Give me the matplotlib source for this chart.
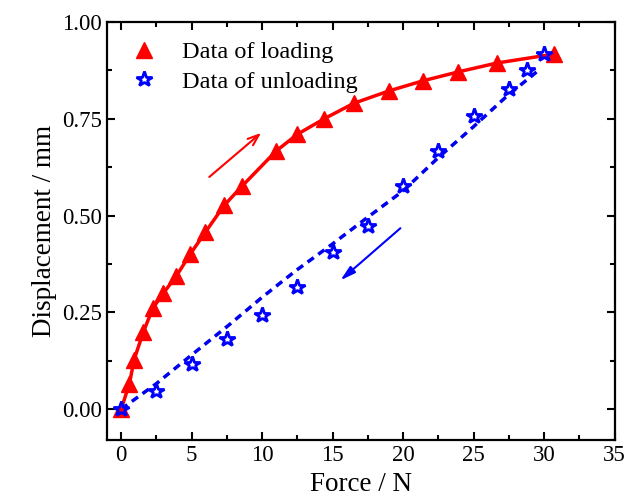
import matplotlib.pyplot as plt

# loading data (red triangles)
load_x = [0, 0.59, 0.92, 1.58, 2.24, 3.0, 3.9, 4.89, 5.97, 7.3, 8.6, 11.0,
          12.5, 14.4, 16.5, 19.0, 21.4, 23.9, 26.65, 30.7]
load_y = [0, 0.066, 0.128, 0.20, 0.26, 0.30, 0.343, 0.40, 0.457, 0.526, 0.577, 0.667,
          0.71, 0.75, 0.79, 0.822, 0.848, 0.871, 0.894, 0.917]

# unloading data (blue stars)
unload_x = [0, 2.5, 5, 7.5, 10, 12.5, 15, 17.5, 20, 22.5, 25, 27.5, 28.75, 30]
unload_y = [0, 0.047, 0.116, 0.182, 0.242, 0.315, 0.405, 0.474, 0.577, 0.666,
            0.756, 0.826, 0.876, 0.917]

# fitted unloading line
fit_x = [0, 2.5, 5.1, 7.6, 10, 12.4, 15, 17.5, 20, 22.5, 25, 27.4, 29.7]
fit_y = [0, 0.066, 0.143, 0.216, 0.289, 0.358, 0.427, 0.496, 0.564, 0.65, 0.73, 0.81, 0.878]

plt.rcParams['font.family'] = ['Liberation Serif', 'DejaVu Serif']

fig = plt.figure(figsize=(6.26, 4.99), dpi=100)
ax = fig.add_axes([0.171, 0.118, 0.811, 0.838])

ax.plot(load_x, load_y, '-', color='red', lw=2.5, zorder=2)
ax.plot(fit_x, fit_y, '--', color='#0000ee', lw=2.5, dashes=(2.2, 1.6), zorder=2)
ax.plot(load_x, load_y, '^', color='red', ms=12, ls='none', label='Data of loading', zorder=3)
ax.plot(unload_x, unload_y, '*', color='blue', mfc='none', mec='blue', mew=2, ms=11.5,
        ls='none', label='Data of unloading', zorder=4)

ax.annotate('', xy=(10.07, 0.718), xytext=(6.1, 0.595),
            arrowprops=dict(arrowstyle='->,head_length=0.8,head_width=0.3', color='red', lw=1.5))
ax.annotate('', xy=(15.4, 0.328), xytext=(19.95, 0.472),
            arrowprops=dict(arrowstyle='-|>,head_length=0.9,head_width=0.25', color='blue', lw=1.5))

ax.set_xlim(-1, 35)
ax.set_ylim(-0.08, 1.0)
ax.set_xticks([0, 5, 10, 15, 20, 25, 30, 35])
ax.set_xticks([2.5, 7.5, 12.5, 17.5, 22.5, 27.5, 32.5], minor=True)
ax.set_yticks([0, 0.25, 0.5, 0.75, 1.0])
ax.set_yticks([0.125, 0.375, 0.625, 0.875], minor=True)
ax.set_yticklabels(['0.00', '0.25', '0.50', '0.75', '1.00'])

ax.tick_params(which='both', direction='in', top=True, right=True, labelsize=16.5, width=1.5)
ax.tick_params(which='major', length=6)
ax.tick_params(which='minor', length=3.5)
for s in ax.spines.values():
    s.set_linewidth(1.6)

ax.set_xlabel('Force / N', fontsize=19.5)
ax.set_ylabel('Displacement / mm', fontsize=19.5)

ax.legend(loc='upper left', frameon=False, fontsize=17.5, handletextpad=0.9,
          handlelength=1.4, borderaxespad=0.4, labelspacing=0.3,
          bbox_to_anchor=(0.0, 1.0))

fig.savefig('out.png', dpi=100)
